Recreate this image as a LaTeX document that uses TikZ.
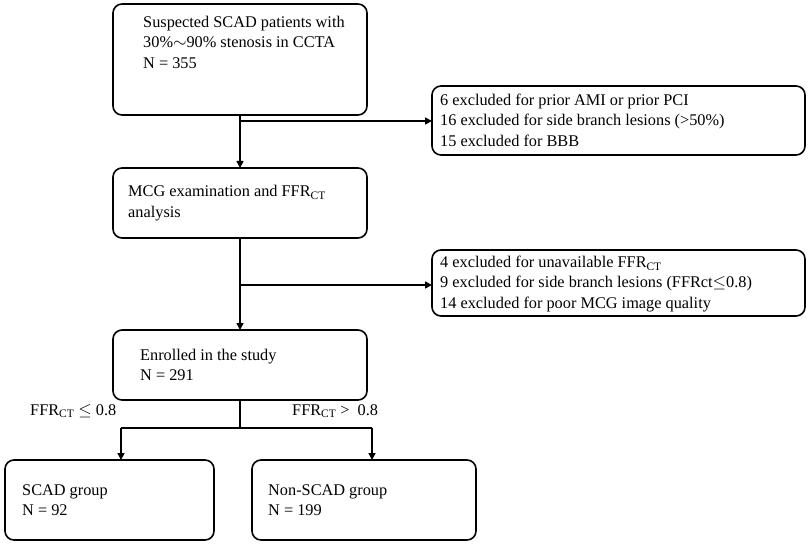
\documentclass[tikz,border=0pt]{standalone}
\usepackage{fontspec}
\setmainfont{Liberation Serif}
\usetikzlibrary{arrows.meta}
\begin{document}
\begin{tikzpicture}[x=1pt,y=-1pt,
 box/.style={draw,line width=1.6pt,rounded corners=9pt,align=left,inner sep=0pt},
 txt/.style={font=\fontsize{16.3}{20.5}\selectfont,align=left,anchor=west,inner sep=0pt},
 ln/.style={line width=1.6pt},
 arr/.style={ln,-{Triangle[length=7pt,width=7pt]}}]
\useasboundingbox (0,0) rectangle (810,548);
\draw[box] (113,4) rectangle (367,115);
\node[txt] (t1) at (143,42) {Suspected SCAD patients with\\30\%$\sim$90\% stenosis in CCTA\\N = 355};
\draw[box] (432,86) rectangle (805,155);
\node[txt] (t2) at (440,120) {6 excluded for prior AMI or prior PCI\\16 excluded for side branch lesions (>50\%)\\15 excluded for BBB};
\draw[box] (113,168) rectangle (367,238);
\node[txt] (t3) at (128,203) {MCG examination and FFR\textsubscript{CT}\\analysis};
\draw[box] (432,250) rectangle (805,316);
\node[txt] (t4) at (440,284) {4 excluded for unavailable FFR\textsubscript{CT}\\9 excluded for side branch lesions (FFRct$\leq$0.8)\\14 excluded for poor MCG image quality};
\draw[box] (113,330) rectangle (367,400);
\node[txt] (t5) at (140,365) {Enrolled in the study\\N = 291};
\draw[box] (5,460) rectangle (214,540);
\node[txt] (t6) at (22,500) {SCAD group\\N = 92};
\draw[box] (252,460) rectangle (476,540);
\node[txt] (t7) at (268,500) {Non-SCAD group\\N = 199};
\coordinate (b1) at (240,115); \coordinate (b3) at (240,168);
\coordinate (j1) at (240,121);
\draw[arr] (b1) -- (b3);
\draw[arr] (j1) -- (432,121);
\coordinate (b3b) at (240,238); \coordinate (b5) at (240,330);
\draw[arr] (b3b) -- (b5);
\draw[arr] (240,285) -- (432,285);
\draw[ln] (240,400) -- (240,428);
\draw[ln] (121,428) -- (372,428);
\draw[arr] (121,428) -- (121,460);
\draw[arr] (372,428) -- (372,460);
\node[txt] (l1) at (30,411) {FFR\textsubscript{CT} $\leq$ 0.8};
\node[txt] (l2) at (292,411) {FFR\textsubscript{CT} >\ \ 0.8};
\end{tikzpicture}
\end{document}
